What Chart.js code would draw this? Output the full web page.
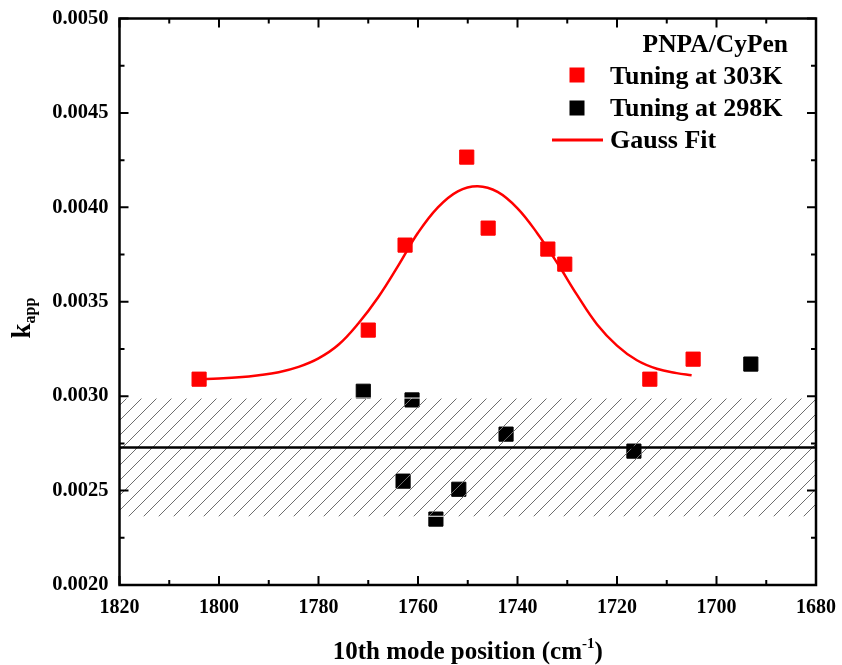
<!DOCTYPE html>
<html><head><meta charset="utf-8">
<script src="https://cdn.jsdelivr.net/npm/chart.js@4/dist/chart.umd.min.js"></script>
<style>html,body{margin:0;padding:0;background:#fff;}#wrap{width:842px;height:665px;position:relative;}</style>
</head><body><div id="wrap"><canvas id="c" width="842" height="665"></canvas></div>
<script>
// ---- data ----
const xTicks = [1820, 1800, 1780, 1760, 1740, 1720, 1700, 1680];
const yTicks = [0.0020, 0.0025, 0.0030, 0.0035, 0.0040, 0.0045, 0.0050];
const x303 = [1804.0, 1770.0, 1762.6, 1750.2, 1745.9, 1733.9, 1730.5, 1713.4, 1704.7];
const y303 = [0.00309, 0.00335, 0.00380, 0.004266, 0.00389, 0.003779, 0.003699, 0.00309, 0.003196];
const x298 = [1771.0, 1761.2, 1763.0, 1756.4, 1751.8, 1742.3, 1716.6, 1693.1];
const y298 = [0.003026, 0.00298, 0.00255, 0.002349, 0.002507, 0.002799, 0.002709, 0.00317];
const xFit = [1804, 1800, 1796, 1792, 1788, 1784, 1780, 1776, 1772, 1768, 1764, 1760, 1756, 1752, 1748, 1744, 1740, 1736, 1732, 1728, 1724, 1720, 1716, 1712, 1708, 1705];
const yFit = [0.00309, 0.003094, 0.0031, 0.003111, 0.003127, 0.003155, 0.0032, 0.003272, 0.003385, 0.003524, 0.00369, 0.003865, 0.004, 0.004085, 0.004112, 0.004082, 0.003995, 0.003862, 0.003705, 0.003535, 0.00338, 0.003268, 0.00319, 0.003145, 0.003122, 0.003111];
const meanLevel = [0.002728];
const bandLimits = [0.002364, 0.00299];
const xRange = [1820, 1680];

const FONT = "'Liberation Serif', 'Times New Roman', serif";
const RED = '#ff0000';

function pts(xs, ys) { return xs.map((x, i) => ({x: x, y: ys[i]})); }

// hatch pattern
const pc = document.createElement('canvas');
pc.width = 15; pc.height = 15;
const pctx = pc.getContext('2d');
pctx.strokeStyle = '#6e6e6e'; pctx.lineWidth = 1;
pctx.beginPath();
pctx.moveTo(-2, 17); pctx.lineTo(17, -2);
pctx.moveTo(-2, 2); pctx.lineTo(2, -2);
pctx.moveTo(13, 17); pctx.lineTo(17, 13);
pctx.stroke();
const hatch = document.getElementById('c').getContext('2d').createPattern(pc, 'repeat');

const decorPlugin = {
  id: 'decor',
  afterDraw(chart) {
    const ctx = chart.ctx;
    const a = chart.chartArea;
    const xs = chart.scales.x, ys = chart.scales.y;
    ctx.save();
    ctx.strokeStyle = '#000';
    ctx.lineWidth = 2.5;
    ctx.strokeRect(a.left, a.top, a.right - a.left, a.bottom - a.top);
    ctx.lineWidth = 2;
    ctx.beginPath();
    for (let v = xRange[0]; v >= xRange[1]; v -= 10) {
      const px = xs.getPixelForValue(v);
      const len = (v % 20 === 0) ? 9 : 5;
      ctx.moveTo(px, a.bottom); ctx.lineTo(px, a.bottom - len);
      ctx.moveTo(px, a.top); ctx.lineTo(px, a.top + len);
    }
    for (let k = 0; k <= 12; k++) {
      const v = yTicks[0] + k * 0.00025;
      const py = ys.getPixelForValue(v);
      const len = (k % 2 === 0) ? 9 : 5;
      ctx.moveTo(a.left, py); ctx.lineTo(a.left + len, py);
      ctx.moveTo(a.right, py); ctx.lineTo(a.right - len, py);
    }
    ctx.stroke();

    // legend
    ctx.fillStyle = '#000';
    ctx.textBaseline = 'alphabetic';
    ctx.font = 'bold 25.5px ' + FONT;
    ctx.textAlign = 'right';
    ctx.fillText('PNPA/CyPen', 788, 52);
    ctx.textAlign = 'left';
    ctx.font = 'bold 26px ' + FONT;
    ctx.fillStyle = RED; ctx.fillRect(569.5, 67.5, 15, 15);
    ctx.fillStyle = '#000'; ctx.fillText('Tuning at 303K', 610, 84);
    ctx.fillStyle = '#000'; ctx.fillRect(569.5, 100.5, 15, 15);
    ctx.fillText('Tuning at 298K', 610, 116);
    ctx.strokeStyle = RED; ctx.lineWidth = 3;
    ctx.beginPath(); ctx.moveTo(552, 140); ctx.lineTo(603, 140); ctx.stroke();
    ctx.fillStyle = '#000'; ctx.fillText('Gauss Fit', 610, 148);

    // x title with superscript
    const t1 = '10th mode position (cm', t2 = '-1', t3 = ')';
    ctx.font = 'bold 25px ' + FONT; const w1 = ctx.measureText(t1).width, w3 = ctx.measureText(t3).width;
    ctx.font = 'bold 15px ' + FONT; const w2 = ctx.measureText(t2).width;
    let sx = (a.left + a.right) / 2 - (w1 + w2 + w3) / 2;
    const by = 659;
    ctx.font = 'bold 25px ' + FONT; ctx.fillText(t1, sx, by); sx += w1;
    ctx.font = 'bold 15px ' + FONT; ctx.fillText(t2, sx, by - 11); sx += w2;
    ctx.font = 'bold 25px ' + FONT; ctx.fillText(t3, sx, by);

    // y title k_app (rotated)
    ctx.save();
    ctx.translate(30, 318);
    ctx.rotate(-Math.PI / 2);
    ctx.font = 'bold 27px ' + FONT; const wk = ctx.measureText('k').width;
    ctx.font = 'bold 16px ' + FONT; const wa = ctx.measureText('app').width;
    let ty = -(wk + wa) / 2;
    ctx.font = 'bold 27px ' + FONT; ctx.fillText('k', ty, 0); ty += wk;
    ctx.font = 'bold 16px ' + FONT; ctx.fillText('app', ty, 5);
    ctx.restore();
    ctx.restore();
  }
};

new Chart(document.getElementById('c'), {
  type: 'scatter',
  data: {
    datasets: [
      { label: 'mean', type: 'line', data: [{x: xRange[0], y: meanLevel[0]}, {x: xRange[1], y: meanLevel[0]}],
        borderColor: '#000', borderWidth: 2.5, pointRadius: 0, fill: false, order: -1 },
      { label: 'bandHigh', type: 'line', data: [{x: xRange[0], y: bandLimits[1]}, {x: xRange[1], y: bandLimits[1]}],
        borderColor: '#ffffff', borderWidth: 1, pointRadius: 0, fill: '+1', backgroundColor: hatch, order: 0 },
      { label: 'bandLow', type: 'line', data: [{x: xRange[0], y: bandLimits[0]}, {x: xRange[1], y: bandLimits[0]}],
        borderColor: '#ffffff', borderWidth: 1, pointRadius: 0, fill: false, order: 0 },
      { label: 'Tuning at 303K', data: pts(x303, y303), pointStyle: 'rect', pointRadius: 10,
        backgroundColor: RED, borderColor: RED, borderWidth: 1, order: 2 },
      { label: 'Tuning at 298K', data: pts(x298, y298), pointStyle: 'rect', pointRadius: 10,
        backgroundColor: '#000', borderColor: '#000', borderWidth: 1, order: 2 },
      { label: 'Gauss Fit', type: 'line', data: pts(xFit, yFit), borderColor: RED, borderWidth: 2.5,
        pointRadius: 0, fill: false, tension: 0.4, order: 3 }
    ]
  },
  plugins: [decorPlugin],
  options: {
    responsive: false, animation: false, devicePixelRatio: 1,
    layout: { padding: { top: 18.5, right: 26, left: 0, bottom: 0 } },
    plugins: { legend: { display: false }, tooltip: { enabled: false } },
    elements: { line: { borderJoinStyle: 'round' } },
    scales: {
      x: {
        type: 'linear', reverse: true, min: xRange[1], max: xRange[0],
        afterBuildTicks: s => { s.ticks = xTicks.map(v => ({value: v})); },
        afterFit: s => { s.height = 80; s.paddingLeft = 0; s.paddingRight = 0; },
        grid: { display: false, drawTicks: false }, border: { display: false },
        ticks: { color: '#000', padding: 11, maxRotation: 0, autoSkip: false,
          font: { family: FONT, size: 20, weight: 'bold' }, callback: v => String(v) }
      },
      y: {
        type: 'linear', min: yTicks[0], max: yTicks[yTicks.length - 1],
        afterBuildTicks: s => { s.ticks = yTicks.map(v => ({value: v})); },
        afterFit: s => { s.width = 119.5; s.paddingTop = 0; s.paddingBottom = 0; },
        grid: { display: false, drawTicks: false }, border: { display: false },
        ticks: { color: '#000', padding: 11, autoSkip: false,
          font: { family: FONT, size: 20.5, weight: 'bold' }, callback: v => Number(v).toFixed(4) }
      }
    }
  }
});
</script></body></html>
